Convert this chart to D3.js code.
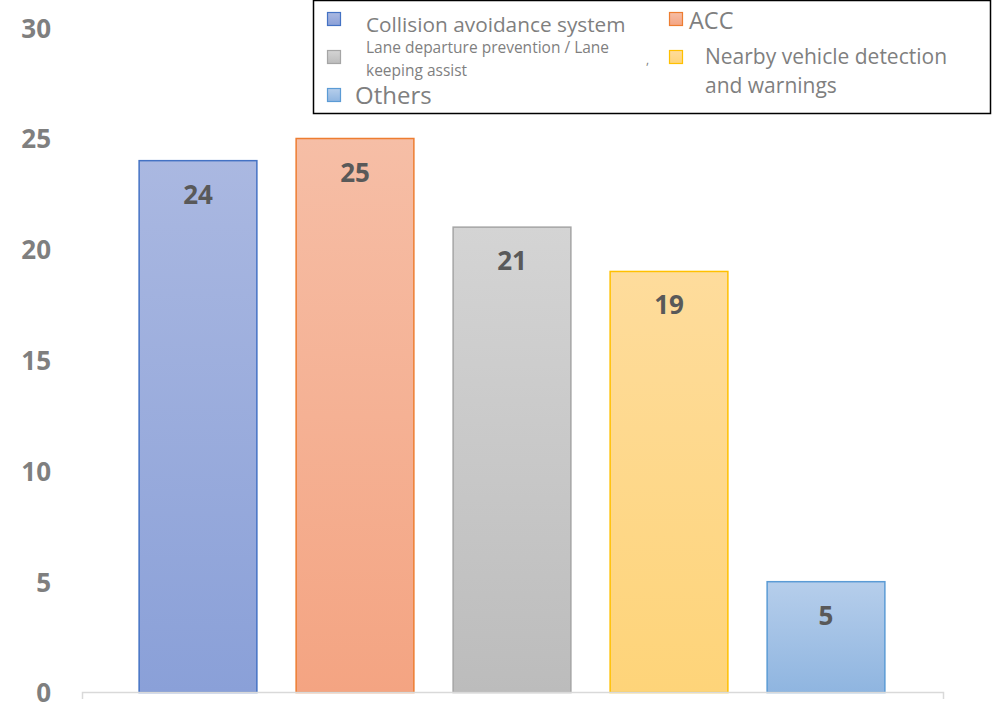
<!DOCTYPE html>
<html><head><meta charset="utf-8">
<script src="https://cdn.jsdelivr.net/npm/d3@7"></script>
<style>body{margin:0;background:#fff}svg{display:block}</style>
</head><body>
<script>
const categories = ["Collision avoidance system","ACC","Lane departure prevention / Lane keeping assist","Nearby vehicle detection and warnings","Others"];
const values = [24, 25, 21, 19, 5];
const yTicks = [0, 5, 10, 15, 20, 25, 30];
const fillTop = ["#aab8e1","#f6bea6","#d4d4d4","#fedc9c","#b6ceeb"];
const fillBottom = ["#8aa0d8","#f4a482","#bcbcbc","#fed479","#8fb5e0"];
const strokes = ["#4472c4","#ed7d31","#a5a5a5","#ffc000","#5b9bd5"];

const W = 992, H = 703;
const svg = d3.select("body").append("svg").attr("width", W).attr("height", H);
const defs = svg.append("defs");
categories.forEach((c, i) => {
  const g = defs.append("linearGradient").attr("id", "g" + i)
    .attr("x1", 0).attr("y1", 0).attr("x2", 0).attr("y2", 1);
  g.append("stop").attr("offset", "0%").attr("stop-color", fillTop[i]);
  g.append("stop").attr("offset", "100%").attr("stop-color", fillBottom[i]);
});

const y = d3.scaleLinear().domain([0, 30]).range([692.5, 27.7]);
const x = d3.scaleBand().domain(categories).range([119.5, 904.5]).paddingInner(0.25).paddingOuter(0.125);

const numFont = "'Open Sans', Lato, sans-serif";

// y tick labels
const yAxis = d3.axisLeft(y).tickValues(yTicks).tickSize(0).tickPadding(0);
const ya = svg.append("g").attr("transform", "translate(51,0)").call(yAxis);
ya.select(".domain").remove();
ya.selectAll("text").attr("font-family", numFont)
  .attr("font-weight", "bold").attr("font-size", 26).attr("fill", "#7f7f7f").attr("dy", "0.36em");

// bars
svg.selectAll("rect.bar").data(values).join("rect").attr("class", "bar")
  .attr("x", (d, i) => x(categories[i]))
  .attr("y", d => y(d))
  .attr("width", x.bandwidth())
  .attr("height", d => y(0) - y(d))
  .attr("fill", (d, i) => `url(#g${i})`)
  .attr("stroke", (d, i) => strokes[i]).attr("stroke-width", 1.5);

// x axis line
svg.append("path").attr("d", "M82.5,699V692.5H943.5V699").attr("fill", "none")
  .attr("stroke", "#d9d9d9").attr("stroke-width", 1.5);

// value labels
svg.selectAll("text.val").data(values).join("text").attr("class", "val")
  .attr("x", (d, i) => x(categories[i]) + x.bandwidth() / 2)
  .attr("y", d => y(d) + 43)
  .attr("text-anchor", "middle")
  .attr("font-family", numFont).attr("font-weight", "bold")
  .attr("font-size", 26).attr("fill", "#595959").text(d => d);

// legend
const lg = svg.append("g");
lg.append("rect").attr("x", 313.5).attr("y", 0.5).attr("width", 677).attr("height", 113)
  .attr("fill", "#fff").attr("stroke", "#000").attr("stroke-width", 1.5);
const sw = [
  {i:0, x:327, y:12},
  {i:1, x:669, y:12},
  {i:2, x:327, y:50},
  {i:3, x:669, y:50},
  {i:4, x:327, y:88}
];
sw.forEach(s => {
  lg.append("rect").attr("x", s.x + 0.5).attr("y", s.y + 0.5).attr("width", 13).attr("height", 13)
    .attr("fill", `url(#g${s.i})`).attr("stroke", strokes[s.i]).attr("stroke-width", 1.2);
});
const lt = [
  {t:"Collision avoidance system", x:366, y:32, s:20.8},
  {t:"ACC", x:689, y:29, s:23.5},
  {t:"Lane departure prevention / Lane", x:366, y:53, s:15.5},
  {t:"keeping assist", x:366, y:76, s:15.5},
  {t:"Nearby vehicle detection", x:705, y:64, s:21},
  {t:"and warnings", x:705, y:93, s:21},
  {t:"Others", x:355, y:104, s:24},
  {t:",", x:646, y:64, s:12}
];
lt.forEach(d => {
  lg.append("text").attr("x", d.x).attr("y", d.y).attr("font-family", "'Open Sans', sans-serif")
    .attr("font-size", d.s).attr("fill", "#7f7f7f").text(d.t);
});
</script>
</body></html>
